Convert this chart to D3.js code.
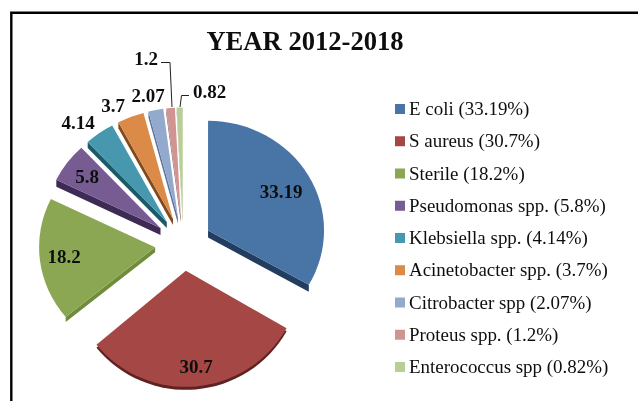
<!DOCTYPE html>
<html>
<head>
	<meta charset="utf-8">
	<title>YEAR 2012-2018</title>
	<style>
		html, body { margin: 0; padding: 0; background: #fff; }
		svg { display: block; }
		text { font-family: "Liberation Serif", serif; fill: #111; }
	</style>
</head>
<body>
	<svg width="638" height="401"></svg>
<script src="https://cdn.jsdelivr.net/npm/d3@7"></script>
<script>
	// data
	const categories = ["E coli", "S aureus", "Sterile", "Pseudomonas spp.", "Klebsiella spp.", "Acinetobacter spp.", "Citrobacter spp", "Proteus spp.", "Enterococcus spp"]
	const values = [33.19, 30.7, 18.2, 5.8, 4.14, 3.7, 2.07, 1.2, 0.82]
	const topColors = ["#4a74a6", "#a54745", "#8ba752", "#775b93", "#4698ae", "#dc8a46", "#94a9ce", "#d09492", "#b9cd96"]
	const sideColors = ["#203c5e", "#5e2322", "#6f8c3a", "#3e2b55", "#1f5a6b", "#7f4b1c", "#5f7396", "#946060", "#7f9560"]

	const svg = d3.select("svg")

	// the reference is a slightly soft scan
	let defs = svg.append("defs")
	defs.append("filter").attr("id", "soft")
		.attr("x", 0).attr("y", 0).attr("width", 638).attr("height", 401)
		.attr("filterUnits", "userSpaceOnUse")
		.append("feGaussianBlur").attr("stdDeviation", 0.4)
	const root = svg.append("g").attr("filter", "url(#soft)")

	// frame
	root.append("path")
		.attr("d", "M11.3,401V12.7H638")
		.attr("fill", "none").attr("stroke", "#000").attr("stroke-width", 2.4)

	// title
	root.append("text").attr("x", 305).attr("y", 49.5)
		.attr("text-anchor", "middle").attr("font-size", 26.6).attr("font-weight", "bold")
		.text("YEAR 2012-2018")

	// pie
	const cx = 183.4, cy = 244, rx = 116, ky = 0.945, explode = 28.5
	const pie = d3.pie().sort(null)
	const arc = d3.arc().innerRadius(0).outerRadius(rx)
	const arcs = pie(values)
	// front slice looks a bit taller and shows only a thin rim
	const sliceKy = i => i == 1 ? 1 : ky
	const wallDepth = [7, 3, 5, 7, 6, 6, 6, 5, 5]

	const offset = d => {
		let mid = (d.startAngle + d.endAngle) / 2
		return [explode * Math.sin(mid), -explode * Math.cos(mid) * ky]
	}

	let gPie = root.append("g").attr("transform", `translate(${cx}, ${cy})`)

	arcs.forEach((d, i) => {
		let [ox, oy] = offset(d)
		let g = gPie.append("g").attr("transform", `translate(${ox}, ${oy})`)
		let h = wallDepth[i]
		if (i == 1) {
			// outer rim of the front slice
			g.append("path")
				.attr("transform", `translate(0, ${h}) scale(1, ${sliceKy(i)})`)
				.attr("d", arc(d))
				.attr("fill", sideColors[i])
		} else {
			// wall under the cut edge that faces the viewer
			let a = i == 0 ? d.endAngle : d.startAngle
			let x = rx * Math.sin(a), y = -rx * Math.cos(a) * ky
			g.append("path")
				.attr("d", d3.line()([[0, 0], [x, y], [x, y + h], [0, h]]))
				.attr("fill", sideColors[i])
		}
		g.append("path")
			.attr("transform", `scale(1, ${sliceKy(i)})`)
			.attr("d", arc(d))
			.attr("fill", topColors[i])
	})

	// labels
	const labelFont = 19
	const labelText = values.map(String)
	const labelPos = [[281, 198], [196, 373], [64, 263], [87, 183], [78, 129], [113, 112], [148, 102]]
	labelPos.forEach((p, i) => {
		root.append("text").attr("x", p[0]).attr("y", p[1])
			.attr("text-anchor", "middle").attr("font-size", labelFont).attr("font-weight", "bold")
			.text(labelText[i])
	})

	// the two outside labels with leader lines
	root.append("text").attr("x", 158).attr("y", 65).attr("text-anchor", "end")
		.attr("font-size", labelFont).attr("font-weight", "bold").text(labelText[7])
	root.append("text").attr("x", 193).attr("y", 97.5)
		.attr("font-size", labelFont).attr("font-weight", "bold").text(labelText[8])
	root.append("path").attr("d", "M161,62.5H170L172,107")
		.attr("fill", "none").attr("stroke", "#222").attr("stroke-width", 1)
	root.append("path").attr("d", "M189,95.5H181.5L180,107")
		.attr("fill", "none").attr("stroke", "#222").attr("stroke-width", 1)

	// legend
	let y = d3.scalePoint().domain(categories).range([109, 367])
	let legend = root.selectAll("g.legend").data(categories).enter().append("g")
		.attr("class", "legend")
		.attr("transform", d => `translate(395, ${y(d)})`)
	legend.append("rect").attr("x", 0).attr("y", -5).attr("width", 10).attr("height", 10)
		.attr("fill", (d, i) => topColors[i])
	legend.append("text").attr("x", 14).attr("y", 6)
		.attr("font-size", 18.95).attr("fill", "#222")
		.text((d, i) => `${d} (${values[i]}%)`)
</script>
</body>
</html>
